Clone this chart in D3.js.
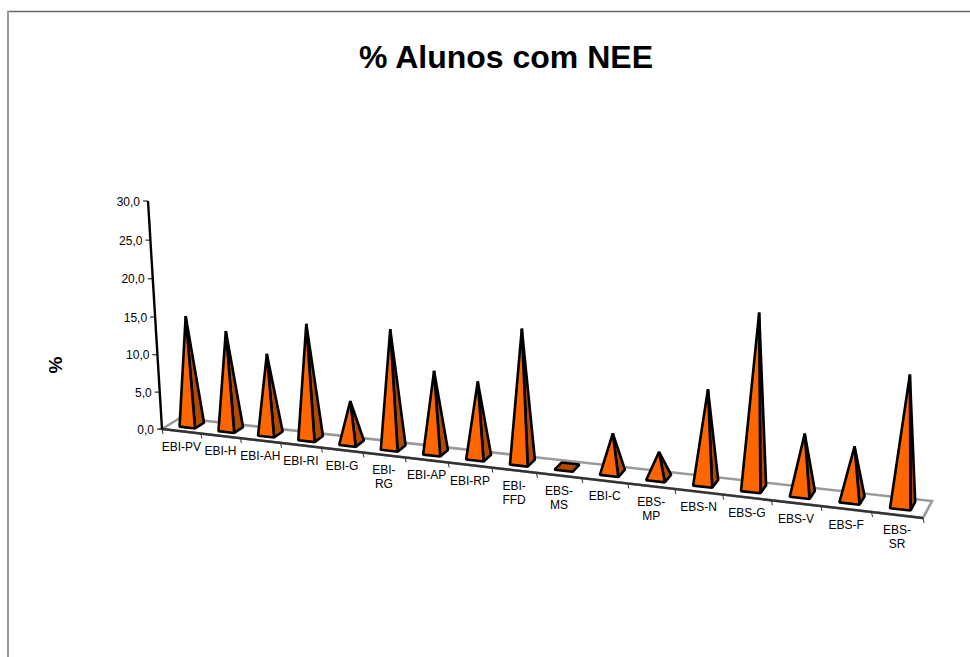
<!DOCTYPE html>
<html><head><meta charset="utf-8">
<script src="https://cdn.jsdelivr.net/npm/d3@7"></script>
<style>html,body{margin:0;padding:0;background:#fff}svg{display:block}text{font-family:"Liberation Sans",Arial,sans-serif;fill:#000}</style>
</head><body><svg id="c" width="970" height="657"></svg>
<script>
const categories = ["EBI-PV","EBI-H","EBI-AH","EBI-RI","EBI-G","EBI-|RG","EBI-AP","EBI-RP","EBI-|FFD","EBS-|MS","EBI-C","EBS-|MP","EBS-N","EBS-G","EBS-V","EBS-F","EBS-|SR"];
const values = [14.6,13.1,10.6,15.0,5.5,15.3,10.5,9.7,16.8,0,4.9,3.2,11.5,21.1,7.3,6.4,15.4];
const yTicks = [0,5,10,15,20,25,30];
const titleText = "% Alunos com NEE";
const yTitle = "%";

const svg = d3.select("#c");
const fmt = v => v.toFixed(1).replace(".", ",");

// Perspective camera: u along categories, d into the depth, v up the value axis (all 0..1)
const C = 0.139, H = 0.0136, Hw = -0.03455, VP = [553, 6800];
const O = [162, 429], UE = [923, 518], DE = [180, 418], UDE = [932, 501];
const ax = UE[0]*(1-C)-O[0], ay = UE[1]*(1-C)-O[1];
const ex = DE[0]*(1+H)-O[0], ey = DE[1]*(1+H)-O[1];
const mx = UDE[0]*(1-C+H)-(O[0]+ax+ex), my = UDE[1]*(1-C+H)-(O[1]+ay+ey);
function project(u,d,v){
  const w = 1 - C*u + H*d + Hw*v;
  return [(O[0]+ax*u+ex*d+mx*u*d+Hw*VP[0]*v)/w, (O[1]+ay*u+ey*d+my*u*d+Hw*VP[1]*v)/w];
}
const uScale = d3.scaleBand().domain(categories).range([0,1]).paddingInner(0).paddingOuter(0);
const vScale = d3.scaleLinear().domain([0,30]).range([0,1]);
const barInset = 0.3, depthFront = 0.33, depthBack = 0.84;
const line = d3.line();
const poly = pts => line(pts) + "Z";

// frame
svg.append("path").attr("d","M7,11.5H970").attr("stroke","#666").attr("stroke-width",1.3).attr("fill","none");
svg.append("path").attr("d","M8,11V657").attr("stroke","#999").attr("stroke-width",2).attr("fill","none");

// title
svg.append("text").attr("x",506).attr("y",68).attr("text-anchor","middle").attr("font-size",32).attr("font-weight","bold").text(titleText);
svg.append("text").attr("transform","translate(62,365) rotate(-90)").attr("text-anchor","middle").attr("font-size",19).attr("font-weight","bold").text(yTitle);

// floor
svg.append("path").attr("d",poly([project(0,0,0),project(1,0,0),project(1,1,0),project(0,1,0)])).attr("fill","#fff").attr("stroke","#9a9a9a").attr("stroke-width",2.6);
svg.append("path").attr("d",line([project(0,0,0),project(1,0,0)])).attr("fill","none").attr("stroke","#333").attr("stroke-width",2.4);

// category ticks and labels
const edges = d3.range(categories.length+1).map(i=>i/categories.length);
svg.append("g").selectAll("path").data(edges).join("path")
  .attr("d",u=>{const p=project(u,0,0);return line([p,[p[0]+1,p[1]+5]]);})
  .attr("stroke","#333").attr("stroke-width",1).attr("fill","none");
const lab = svg.append("g").selectAll("text").data(categories).join("text")
  .attr("text-anchor","middle").attr("font-size",12);
lab.each(function(c){
  const u = uScale(c)+uScale.bandwidth()/2, p = project(u,0,0);
  d3.select(this).selectAll("tspan").data(c.split("|")).join("tspan")
    .attr("x",p[0]).attr("y",(s,i)=>p[1]+19.5+i*14).text(s=>s);
});

// value axis
svg.append("path").attr("d",line([project(0,0,vScale(0)),project(0,0,vScale(30))])).attr("fill","none").attr("stroke","#000").attr("stroke-width",2.4);
svg.append("g").selectAll("path").data(yTicks).join("path")
  .attr("d",t=>{const p=project(0,0,vScale(t));return line([[p[0]-5,p[1]],p]);})
  .attr("stroke","#000").attr("stroke-width",1);
svg.append("g").selectAll("text").data(yTicks).join("text")
  .attr("text-anchor","end").attr("font-size",12)
  .attr("x",t=>project(0,0,vScale(t))[0]-8).attr("y",t=>project(0,0,vScale(t))[1]+4.5).text(fmt);

// pyramids
const bars = svg.append("g").selectAll("g").data(categories.map((c,i)=>({c,v:values[i]}))).join("g");
const stroke = {stroke:"#000","stroke-width":2.6,"stroke-linejoin":"bevel"};
bars.each(function(b){
  const g = d3.select(this), u0=uScale(b.c), bw=uScale.bandwidth();
  const ul=u0+bw*barInset, ur=u0+bw*(1-barInset), uc=u0+bw/2;
  const fl=project(ul,depthFront,0), fr=project(ur,depthFront,0), br=project(ur,depthBack,0), bl=project(ul,depthBack,0);
  const apex=project(uc,(depthFront+depthBack)/2,vScale(b.v));
  const style = s => { Object.entries(stroke).forEach(([k,v])=>s.attr(k,v)); };
  if(b.v===0){
    g.append("path").attr("d",poly([fl,fr,br,bl])).attr("fill","#b34a00").call(style);
    return;
  }
  g.append("path").attr("d",poly([fr,br,apex])).attr("fill","#b34a00").call(style);
  g.append("path").attr("d",poly([fl,fr,apex])).attr("fill","#ff6600").call(style);
});
</script></body></html>
